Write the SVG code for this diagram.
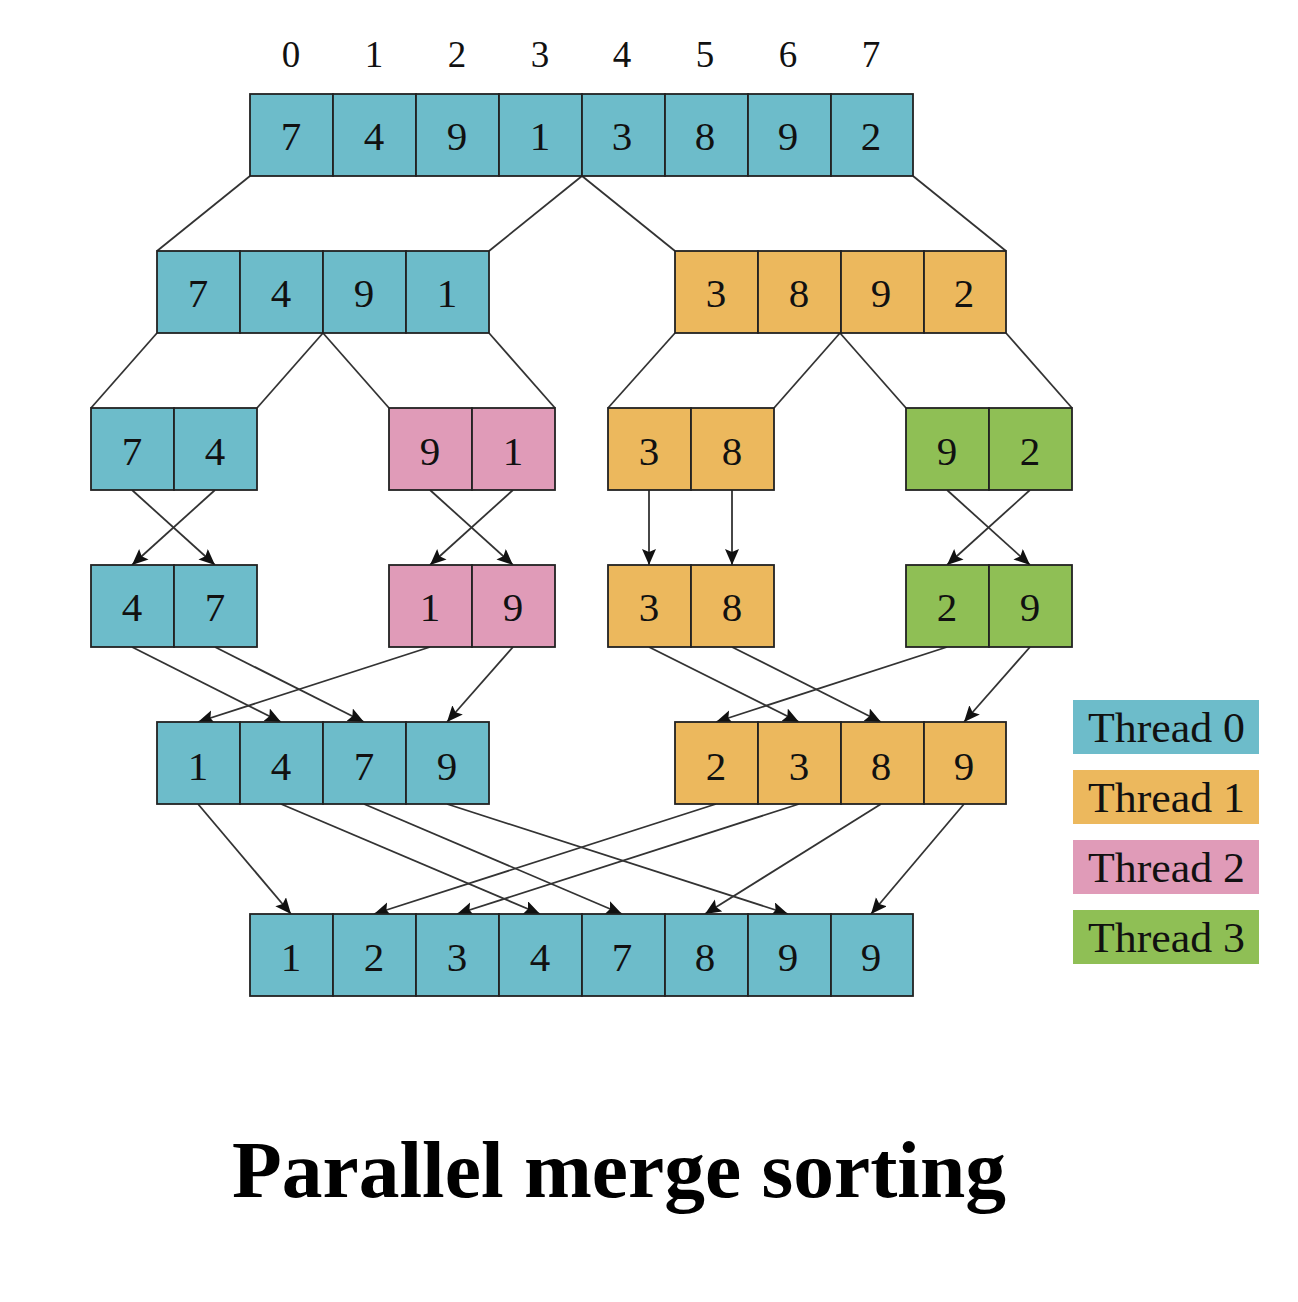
<svg xmlns="http://www.w3.org/2000/svg" width="1298" height="1302" viewBox="0 0 1298 1302">
<style>
.t{fill:#6dbcca}.o{fill:#ecb85d}.p{fill:#e09bb8}.g{fill:#8fbf55}
.c{stroke:#222;stroke-width:1.8}
.n{font-family:"Liberation Serif","DejaVu Serif",serif;font-size:41px;text-anchor:middle;fill:#111}
.i{font-family:"Liberation Serif","DejaVu Serif",serif;font-size:37px;text-anchor:middle;fill:#111}
.l{font-family:"Liberation Serif","DejaVu Serif",serif;font-size:43px;fill:#111}
.ln{stroke:#333;stroke-width:1.8;fill:none}
.ar{stroke:#333;stroke-width:1.8;fill:none;marker-end:url(#ah)}
</style>
<defs>
<marker id="ah" markerUnits="userSpaceOnUse" markerWidth="18" markerHeight="16" refX="16" refY="7" orient="auto">
<path d="M0,0 L16,7 L0,14 L3,7 Z" fill="#111"/>
</marker>
</defs>
<rect width="1298" height="1302" fill="#fff"/>
<g id="indices" class="i">
<text x="291" y="67">0</text><text x="374" y="67">1</text><text x="457" y="67">2</text><text x="540" y="67">3</text>
<text x="622" y="67">4</text><text x="705" y="67">5</text><text x="788" y="67">6</text><text x="871" y="67">7</text>
</g>
<g id="connectors">
<line class="ln" x1="250" y1="176" x2="157" y2="251"/>
<line class="ln" x1="582" y1="176" x2="489" y2="251"/>
<line class="ln" x1="582" y1="176" x2="675" y2="251"/>
<line class="ln" x1="913" y1="176" x2="1006" y2="251"/>
<line class="ln" x1="157" y1="333" x2="91" y2="408"/>
<line class="ln" x1="323" y1="333" x2="257" y2="408"/>
<line class="ln" x1="323" y1="333" x2="389" y2="408"/>
<line class="ln" x1="489" y1="333" x2="555" y2="408"/>
<line class="ln" x1="675" y1="333" x2="608" y2="408"/>
<line class="ln" x1="840" y1="333" x2="774" y2="408"/>
<line class="ln" x1="840" y1="333" x2="906" y2="408"/>
<line class="ln" x1="1006" y1="333" x2="1072" y2="408"/>
<line class="ar" x1="132" y1="490" x2="215" y2="565"/>
<line class="ar" x1="215" y1="490" x2="132" y2="565"/>
<line class="ar" x1="430" y1="490" x2="513" y2="565"/>
<line class="ar" x1="513" y1="490" x2="430" y2="565"/>
<line class="ar" x1="649" y1="490" x2="649" y2="565"/>
<line class="ar" x1="732" y1="490" x2="732" y2="565"/>
<line class="ar" x1="947" y1="490" x2="1030" y2="565"/>
<line class="ar" x1="1030" y1="490" x2="947" y2="565"/>
<line class="ar" x1="132" y1="647" x2="281" y2="722"/>
<line class="ar" x1="215" y1="647" x2="364" y2="722"/>
<line class="ar" x1="430" y1="647" x2="198" y2="722"/>
<line class="ar" x1="513" y1="647" x2="447" y2="722"/>
<line class="ar" x1="649" y1="647" x2="799" y2="722"/>
<line class="ar" x1="732" y1="647" x2="881" y2="722"/>
<line class="ar" x1="947" y1="647" x2="716" y2="722"/>
<line class="ar" x1="1030" y1="647" x2="964" y2="722"/>
<line class="ar" x1="198" y1="804" x2="291" y2="914"/>
<line class="ar" x1="281" y1="804" x2="540" y2="914"/>
<line class="ar" x1="364" y1="804" x2="622" y2="914"/>
<line class="ar" x1="447" y1="804" x2="788" y2="914"/>
<line class="ar" x1="716" y1="804" x2="374" y2="914"/>
<line class="ar" x1="799" y1="804" x2="457" y2="914"/>
<line class="ar" x1="881" y1="804" x2="705" y2="914"/>
<line class="ar" x1="964" y1="804" x2="871" y2="914"/>
</g>
<g id="row0">
<g class="t c"><rect x="250" y="94" width="83" height="82"/><rect x="333" y="94" width="83" height="82"/><rect x="416" y="94" width="83" height="82"/><rect x="499" y="94" width="83" height="82"/><rect x="582" y="94" width="83" height="82"/><rect x="665" y="94" width="83" height="82"/><rect x="748" y="94" width="83" height="82"/><rect x="831" y="94" width="82" height="82"/></g>
<g class="n"><text x="291" y="150">7</text><text x="374" y="150">4</text><text x="457" y="150">9</text><text x="540" y="150">1</text><text x="622" y="150">3</text><text x="705" y="150">8</text><text x="788" y="150">9</text><text x="871" y="150">2</text></g>
</g>
<g id="row1-left">
<g class="t c"><rect x="157" y="251" width="83" height="82"/><rect x="240" y="251" width="83" height="82"/><rect x="323" y="251" width="83" height="82"/><rect x="406" y="251" width="83" height="82"/></g>
<g class="n"><text x="198" y="307">7</text><text x="281" y="307">4</text><text x="364" y="307">9</text><text x="447" y="307">1</text></g>
</g>
<g id="row1-right">
<g class="o c"><rect x="675" y="251" width="83" height="82"/><rect x="758" y="251" width="83" height="82"/><rect x="841" y="251" width="83" height="82"/><rect x="924" y="251" width="82" height="82"/></g>
<g class="n"><text x="716" y="307">3</text><text x="799" y="307">8</text><text x="881" y="307">9</text><text x="964" y="307">2</text></g>
</g>
<g id="row2-a"><g class="t c"><rect x="91" y="408" width="83" height="82"/><rect x="174" y="408" width="83" height="82"/></g><g class="n"><text x="132" y="465">7</text><text x="215" y="465">4</text></g></g>
<g id="row2-b"><g class="p c"><rect x="389" y="408" width="83" height="82"/><rect x="472" y="408" width="83" height="82"/></g><g class="n"><text x="430" y="465">9</text><text x="513" y="465">1</text></g></g>
<g id="row2-c"><g class="o c"><rect x="608" y="408" width="83" height="82"/><rect x="691" y="408" width="83" height="82"/></g><g class="n"><text x="649" y="465">3</text><text x="732" y="465">8</text></g></g>
<g id="row2-d"><g class="g c"><rect x="906" y="408" width="83" height="82"/><rect x="989" y="408" width="83" height="82"/></g><g class="n"><text x="947" y="465">9</text><text x="1030" y="465">2</text></g></g>
<g id="row3-a"><g class="t c"><rect x="91" y="565" width="83" height="82"/><rect x="174" y="565" width="83" height="82"/></g><g class="n"><text x="132" y="621">4</text><text x="215" y="621">7</text></g></g>
<g id="row3-b"><g class="p c"><rect x="389" y="565" width="83" height="82"/><rect x="472" y="565" width="83" height="82"/></g><g class="n"><text x="430" y="621">1</text><text x="513" y="621">9</text></g></g>
<g id="row3-c"><g class="o c"><rect x="608" y="565" width="83" height="82"/><rect x="691" y="565" width="83" height="82"/></g><g class="n"><text x="649" y="621">3</text><text x="732" y="621">8</text></g></g>
<g id="row3-d"><g class="g c"><rect x="906" y="565" width="83" height="82"/><rect x="989" y="565" width="83" height="82"/></g><g class="n"><text x="947" y="621">2</text><text x="1030" y="621">9</text></g></g>
<g id="row4-left">
<g class="t c"><rect x="157" y="722" width="83" height="82"/><rect x="240" y="722" width="83" height="82"/><rect x="323" y="722" width="83" height="82"/><rect x="406" y="722" width="83" height="82"/></g>
<g class="n"><text x="198" y="780">1</text><text x="281" y="780">4</text><text x="364" y="780">7</text><text x="447" y="780">9</text></g>
</g>
<g id="row4-right">
<g class="o c"><rect x="675" y="722" width="83" height="82"/><rect x="758" y="722" width="83" height="82"/><rect x="841" y="722" width="83" height="82"/><rect x="924" y="722" width="82" height="82"/></g>
<g class="n"><text x="716" y="780">2</text><text x="799" y="780">3</text><text x="881" y="780">8</text><text x="964" y="780">9</text></g>
</g>
<g id="row5">
<g class="t c"><rect x="250" y="914" width="83" height="82"/><rect x="333" y="914" width="83" height="82"/><rect x="416" y="914" width="83" height="82"/><rect x="499" y="914" width="83" height="82"/><rect x="582" y="914" width="83" height="82"/><rect x="665" y="914" width="83" height="82"/><rect x="748" y="914" width="83" height="82"/><rect x="831" y="914" width="82" height="82"/></g>
<g class="n"><text x="291" y="971">1</text><text x="374" y="971">2</text><text x="457" y="971">3</text><text x="540" y="971">4</text><text x="622" y="971">7</text><text x="705" y="971">8</text><text x="788" y="971">9</text><text x="871" y="971">9</text></g>
</g>
<g id="legend">
<rect class="t" x="1073" y="700" width="186" height="54"/><text class="l" x="1088" y="742" textLength="157" lengthAdjust="spacingAndGlyphs">Thread 0</text>
<rect class="o" x="1073" y="770" width="186" height="54"/><text class="l" x="1088" y="812" textLength="157" lengthAdjust="spacingAndGlyphs">Thread 1</text>
<rect class="p" x="1073" y="840" width="186" height="54"/><text class="l" x="1088" y="882" textLength="157" lengthAdjust="spacingAndGlyphs">Thread 2</text>
<rect class="g" x="1073" y="910" width="186" height="54"/><text class="l" x="1088" y="952" textLength="157" lengthAdjust="spacingAndGlyphs">Thread 3</text>
</g>
<text id="title" x="619" y="1197" font-family="Liberation Serif, DejaVu Serif, serif" font-size="80" font-weight="bold" text-anchor="middle" fill="#000" textLength="774" lengthAdjust="spacingAndGlyphs">Parallel merge sorting</text>
</svg>
